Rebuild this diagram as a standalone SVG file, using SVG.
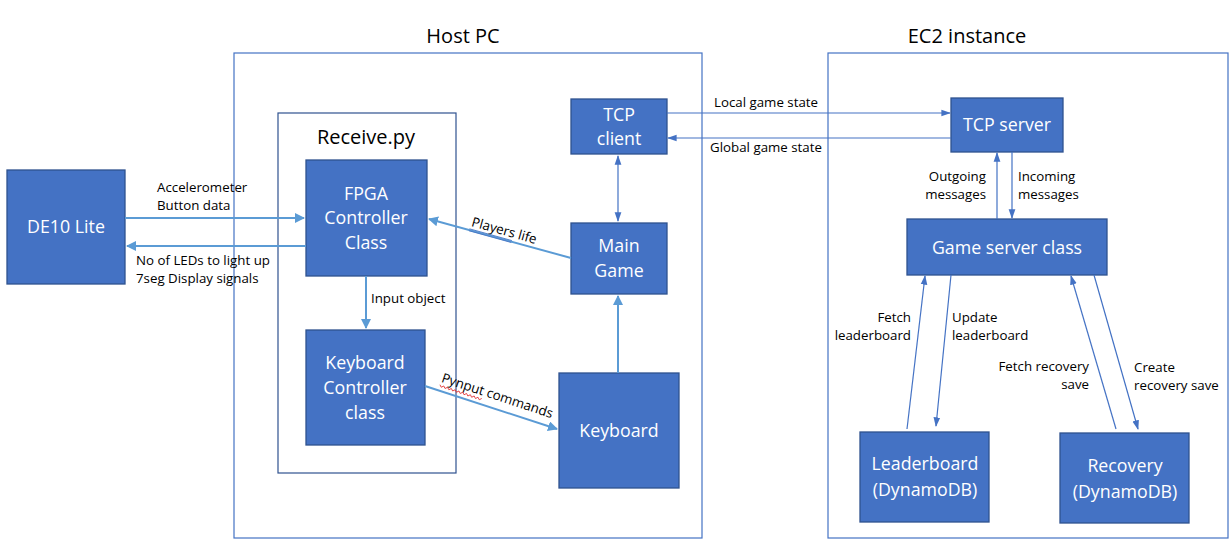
<svg xmlns="http://www.w3.org/2000/svg" width="1232" height="554" viewBox="0 0 1232 554">
<style>
.node{fill:#4472C4;stroke:#2F528F;stroke-width:1.3}
.frame{fill:none;stroke:#4472C4;stroke-width:1.2}
.rframe{fill:#fff;stroke:#2F528F;stroke-width:1.2}
.nt{font-family:"Open Sans","Liberation Sans",sans-serif;font-size:17.8px;fill:#fff;text-anchor:middle}
.lbl{font-family:"Open Sans","Liberation Sans",sans-serif;font-size:13.3px;fill:#000}
.ttl{font-family:"Open Sans","Liberation Sans",sans-serif;font-size:20px;fill:#000;text-anchor:middle}
.thick{stroke:#5B9BD5;stroke-width:2;fill:none}
.thin{stroke:#4472C4;stroke-width:1.2;fill:none}
</style>
<defs>
<marker id="ah" viewBox="0 0 10 10" refX="9" refY="5" markerWidth="5" markerHeight="5" orient="auto-start-reverse"><path d="M0,0L10,5L0,10z" fill="#5B9BD5"/></marker>
<marker id="ah2" viewBox="0 0 10 10" refX="9" refY="5" markerWidth="8" markerHeight="8" orient="auto-start-reverse"><path d="M0,1.5L10,5L0,8.5z" fill="#4472C4"/></marker>
</defs>
<rect width="1232" height="554" fill="#fff"/>
<g id="host-pc"><rect class="frame" x="234" y="53" width="468" height="485"/><text class="ttl" x="463" y="43">Host PC</text></g>
<g id="ec2"><rect class="frame" x="828" y="53" width="400" height="485"/><text class="ttl" x="967" y="43">EC2 instance</text></g>
<g id="receive"><rect class="rframe" x="278" y="113" width="178" height="360"/><text class="ttl" x="366" y="144">Receive.py</text></g>
<g id="de10"><rect class="node" x="7" y="170" width="118" height="114"/><text class="nt" x="66" y="233">DE10 Lite</text></g>
<g id="fpga"><rect class="node" x="306" y="160" width="121" height="116"/><text class="nt" x="366" y="200">FPGA</text><text class="nt" x="366" y="224">Controller</text><text class="nt" x="366" y="249">Class</text></g>
<g id="kbctrl"><rect class="node" x="306" y="330" width="119" height="115"/><text class="nt" x="365" y="369">Keyboard</text><text class="nt" x="365" y="394">Controller</text><text class="nt" x="365" y="419">class</text></g>
<g id="tcpclient"><rect class="node" x="571" y="99" width="96" height="55"/><text class="nt" x="619" y="121">TCP</text><text class="nt" x="619" y="145">client</text></g>
<g id="maingame"><rect class="node" x="571" y="223" width="96" height="71"/><text class="nt" x="619" y="252">Main</text><text class="nt" x="619" y="277">Game</text></g>
<g id="keyboard"><rect class="node" x="559" y="373" width="120" height="115"/><text class="nt" x="619" y="437">Keyboard</text></g>
<g id="tcpserver"><rect class="node" x="951" y="98" width="112" height="54"/><text class="nt" x="1007" y="131">TCP server</text></g>
<g id="gameserver"><rect class="node" x="907" y="219" width="200" height="56"/><text class="nt" x="1007" y="254">Game server class</text></g>
<g id="leaderboard"><rect class="node" x="860" y="432" width="129" height="90"/><text class="nt" x="925" y="470">Leaderboard</text><text class="nt" x="925" y="496">(DynamoDB)</text></g>
<g id="recovery"><rect class="node" x="1060" y="433" width="129" height="90"/><text class="nt" x="1125" y="472">Recovery</text><text class="nt" x="1125" y="498">(DynamoDB)</text></g>
<g id="connectors">
<line class="thick" x1="125" y1="218" x2="304" y2="218" marker-end="url(#ah)"/>
<line class="thick" x1="306" y1="246" x2="127" y2="246" marker-end="url(#ah)"/>
<line class="thick" x1="366" y1="276" x2="366" y2="328" marker-end="url(#ah)"/>
<line class="thick" x1="571" y1="258" x2="429" y2="219" marker-end="url(#ah)"/>
<line class="thick" x1="425" y1="386" x2="557" y2="429" marker-end="url(#ah)"/>
<line class="thick" x1="618" y1="373" x2="618" y2="296" marker-end="url(#ah)"/>
<line class="thin" x1="618" y1="156" x2="618" y2="221" marker-start="url(#ah2)" marker-end="url(#ah2)"/>
<line class="thin" x1="667" y1="113" x2="950" y2="113" marker-end="url(#ah2)"/>
<line class="thin" x1="951" y1="138" x2="668" y2="138" marker-end="url(#ah2)"/>
<line class="thin" x1="997" y1="219" x2="997" y2="153" marker-end="url(#ah2)"/>
<line class="thin" x1="1012" y1="152" x2="1012" y2="218" marker-end="url(#ah2)"/>
<line class="thin" x1="907" y1="429" x2="925" y2="276" marker-end="url(#ah2)"/>
<line class="thin" x1="951" y1="275" x2="936" y2="426" marker-end="url(#ah2)"/>
<line class="thin" x1="1116" y1="429" x2="1071" y2="276" marker-end="url(#ah2)"/>
<line class="thin" x1="1094" y1="275" x2="1138" y2="429" marker-end="url(#ah2)"/>
</g>
<g id="labels">
<text class="lbl" x="157" y="192">Accelerometer</text>
<text class="lbl" x="157" y="210">Button data</text>
<text class="lbl" x="136" y="265">No of LEDs to light up</text>
<text class="lbl" x="136" y="283">7seg Display signals</text>
<text class="lbl" x="371" y="303">Input object</text>
<text class="lbl" x="766" y="107" text-anchor="middle">Local game state</text>
<text class="lbl" x="766" y="152" text-anchor="middle">Global game state</text>
<text class="lbl" x="986" y="181" text-anchor="end">Outgoing</text>
<text class="lbl" x="986" y="199" text-anchor="end">messages</text>
<text class="lbl" x="1018" y="181">Incoming</text>
<text class="lbl" x="1018" y="199">messages</text>
<text class="lbl" x="911" y="322" text-anchor="end">Fetch</text>
<text class="lbl" x="911" y="340" text-anchor="end">leaderboard</text>
<text class="lbl" x="952" y="322">Update</text>
<text class="lbl" x="952" y="340">leaderboard</text>
<text class="lbl" x="1089" y="371" text-anchor="end">Fetch recovery</text>
<text class="lbl" x="1089" y="389" text-anchor="end">save</text>
<text class="lbl" x="1134" y="372">Create</text>
<text class="lbl" x="1134" y="390">recovery save</text>
<g transform="translate(503,235) rotate(15.5)"><text class="lbl" x="0" y="0" text-anchor="middle">Players life</text><line x1="-34" y1="3" x2="10" y2="3" stroke="#4472C4" stroke-width="0.8"/><line x1="-34" y1="5" x2="10" y2="5" stroke="#4472C4" stroke-width="0.8"/></g>
<g transform="translate(496,400) rotate(18.2)"><text class="lbl" x="0" y="0" text-anchor="middle">Pynput commands</text><path d="M-58,3 l2,2 l2,-2 l2,2 l2,-2 l2,2 l2,-2 l2,2 l2,-2 l2,2 l2,-2 l2,2 l2,-2 l2,2 l2,-2 l2,2 l2,-2 l2,2 l2,-2 l2,2 l2,-2 l2,2 l2,-2" fill="none" stroke="#E03030" stroke-width="0.8"/></g>
</g>
</svg>
